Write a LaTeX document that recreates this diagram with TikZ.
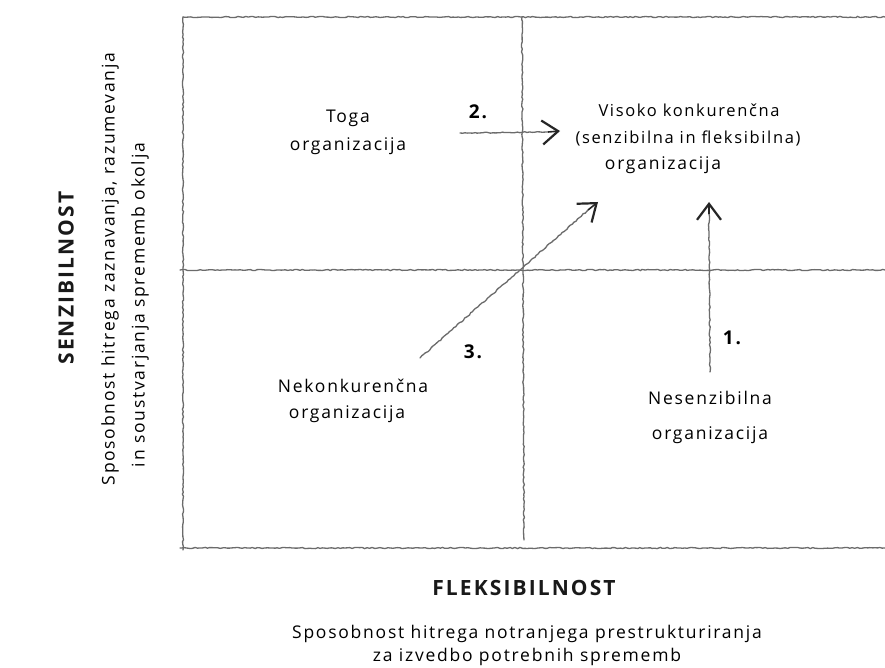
\documentclass[tikz,border=0pt]{standalone}
\usepackage{fontspec}
\setmainfont[LetterSpace=10]{Open Sans}
\usetikzlibrary{arrows.meta,decorations.pathmorphing}
\begin{document}
\begin{tikzpicture}[x=1pt,y=-1pt,
  sketch/.style={draw=black!58, line width=1.3pt, line cap=round, decorate,
    decoration={random steps,segment length=2.5pt,amplitude=0.6pt}},
  barbtip/.style={draw=black!85, line width=1.6pt,
    -{Straight Barb[length=16pt,width=24pt,line width=2.2pt]}},
  lbl/.style={font=\fontsize{17.5}{28}\selectfont, text=black, inner sep=0pt},
  num/.style={font=\fontsize{19}{20}\selectfont\bfseries, text=black, inner sep=0pt},
  ttl/.style={font=\fontsize{21}{24}\selectfont\bfseries, text=black!90, inner sep=0pt}
]
\useasboundingbox (0,0) rectangle (885,668);
\fill[white] (0,0) rectangle (885,668);

% grid
\coordinate (tl) at (183,17);
\coordinate (tr) at (885,17);
\coordinate (bl) at (183,550);
\coordinate (bs) at (180,548);
\coordinate (br) at (885,548);
\coordinate (vt) at (522,17);
\coordinate (vb) at (524,540);
\coordinate (hl) at (180,270);
\coordinate (hr) at (885,270);
\draw[sketch] (tl) -- (tr);
\draw[sketch] (tl) -- (bl);
\draw[sketch] (bs) -- (br);
\draw[sketch] (vt) -- (vb);
\draw[sketch] (hl) -- (hr);

% quadrant labels
\node[lbl, align=center] (toga) at (348,132) {Toga\\organizacija};
\node[lbl, font=\fontsize{16.5}{28}\selectfont] (vis1) at (689,110) {Visoko konkurenčna};
\node[lbl, font=\fontsize{16.5}{28}\selectfont] (vis2) at (688,138) {(senzibilna in fleksibilna)};
\node[lbl] (vis3) at (663,165) {organizacija};
\node[lbl] (nek1) at (353,386) {Nekonkurenčna};
\node[lbl] (nek2) at (347,414) {organizacija};
\node[lbl, align=center] (nes) at (710,417) {Nesenzibilna\\[7pt]organizacija};

% numbers
\node[num] (n2) at (478,112) {2.};
\node[num] (n1) at (732,338) {1.};
\node[num] (n3) at (473,352) {3.};

% arrow 2
\coordinate (a2s) at (460,133);
\coordinate (a2m) at (548,132);
\coordinate (a2e) at (560,131);
\draw[sketch] (a2s) -- (a2m);
\draw[barbtip] (a2m) -- (a2e);

% arrow 3
\coordinate (a3s) at (420,358);
\coordinate (a3m) at (588,210);
\coordinate (a3e) at (598,202);
\draw[sketch] (a3s) -- (a3m);
\draw[barbtip] (a3m) -- (a3e);

% arrow 1
\coordinate (a1s) at (710,372);
\coordinate (a1m) at (709,214);
\coordinate (a1e) at (709,202);
\draw[sketch] (a1s) -- (a1m);
\draw[barbtip] (a1m) -- (a1e);

% axis titles
\node[ttl, rotate=90] (senz) at (66,278) {SENZIBILNOST};
\node[lbl, rotate=90] (senzs1) at (110,269) {Sposobnost hitrega zaznavanja, razumevanja};
\node[lbl, rotate=90] (senzs2) at (140,305) {in soustvarjanja sprememb okolja};
\node[ttl] (flek) at (524,588) {FLEKSIBILNOST};
\node[lbl, align=center] (fleks) at (527,645) {Sposobnost hitrega notranjega prestrukturiranja\\[-5pt]za izvedbo potrebnih sprememb};
\end{tikzpicture}
\end{document}
